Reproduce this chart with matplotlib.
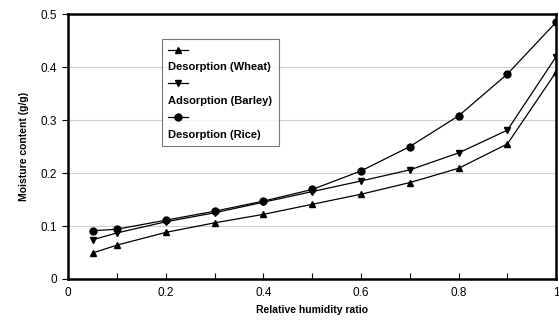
import numpy as np
import matplotlib
matplotlib.use("Agg")
import matplotlib.pyplot as plt
from matplotlib.lines import Line2D
from matplotlib.ticker import MultipleLocator

plt.rcParams["font.family"] = ["Liberation Sans", "DejaVu Sans"]

# relative humidity ratio
rh = [0.05, 0.1, 0.2, 0.3, 0.4, 0.5, 0.6, 0.7, 0.8, 0.9, 1.0]
# moisture content (g/g)
wheat = [0.049, 0.064, 0.088, 0.106, 0.122, 0.141, 0.160, 0.182, 0.209, 0.255, 0.391]
barley = [0.074, 0.087, 0.108, 0.125, 0.145, 0.165, 0.185, 0.206, 0.238, 0.281, 0.420]
rice = [0.091, 0.094, 0.111, 0.128, 0.147, 0.169, 0.204, 0.250, 0.308, 0.387, 0.485]

series = [
    ("Desorption (Wheat)", wheat, "^"),
    ("Adsorption (Barley)", barley, "v"),
    ("Desorption (Rice)", rice, "o"),
]

fig = plt.figure(figsize=(5.59, 3.29), dpi=100)
ax = fig.add_axes([0.122, 0.152, 0.873, 0.805])

for label, y, m in series:
    ax.plot(rh, y, color="black", lw=0.9, marker=m, ms=5, mfc="black", mec="black")

ax.set_xlim(0, 1)
ax.set_ylim(0, 0.5)
ax.xaxis.set_minor_locator(MultipleLocator(0.1))
ax.set_xticks([0, 0.2, 0.4, 0.6, 0.8, 1.0], ["0", "0.2", "0.4", "0.6", "0.8", "1"])
ax.set_yticks([0, 0.1, 0.2, 0.3, 0.4, 0.5], ["0", "0.1", "0.2", "0.3", "0.4", "0.5"])
ax.tick_params(axis="x", which="both", direction="in", length=4, width=0.8, labelsize=8.5, pad=6)
ax.tick_params(axis="y", direction="out", length=4, width=0.8, labelsize=8.5, pad=4)
ax.grid(axis="y", color="#cfcfcf", lw=0.8)
ax.set_axisbelow(True)
for sp in ax.spines.values():
    sp.set_linewidth(1.8)

ax.set_xlabel("Relative humidity ratio", fontsize=7.5, fontweight="bold", labelpad=4)
ax.set_ylabel("Moisture content (g/g)", fontsize=7.5, fontweight="bold", labelpad=8)

# legend: marker on one row, its label on the row below
handles, labels = [], []
blank = Line2D([], [], color="none")
for label, y, m in series:
    handles.append(Line2D([], [], color="black", lw=0.9, marker=m, ms=5))
    labels.append("")
    handles.append(blank)
    labels.append(label)
leg = ax.legend(handles, labels, loc="upper left", bbox_to_anchor=(0.193, 0.905),
                fontsize=8, frameon=True, fancybox=False, edgecolor="#555555",
                handlelength=1.8, handletextpad=-1.8, labelspacing=0.62,
                borderpad=0.55, borderaxespad=0)
leg.get_frame().set_linewidth(0.8)
for t in leg.get_texts():
    t.set_fontweight("bold")

fig.savefig("out.png", dpi=100)
